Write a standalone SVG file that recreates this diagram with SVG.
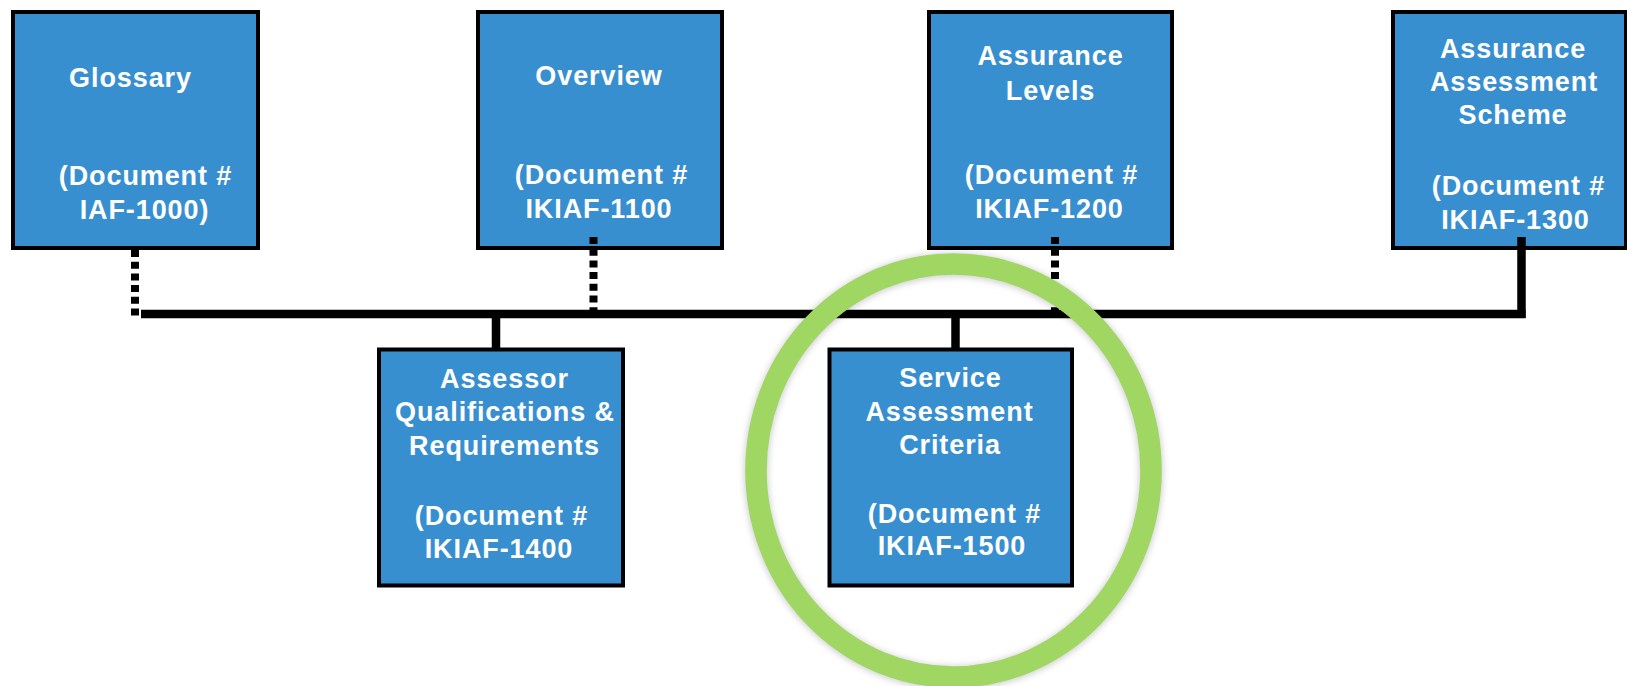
<svg xmlns="http://www.w3.org/2000/svg" width="1627" height="686" viewBox="0 0 1627 686">
  <style>
    .box { fill: #388FD0; stroke: #000; stroke-width: 4; }
    .lbl { font-family: "Liberation Sans", Arial, sans-serif; font-weight: bold; font-size: 27px; letter-spacing: 0.9px; fill: #fff; text-anchor: middle; }
    .solid { stroke: #000; stroke-width: 8.5; fill: none; }
    .dotted { stroke: #000; stroke-width: 8; fill: none; stroke-dasharray: 7 4.7; }
    .ring { fill: none; stroke: #A0D662; stroke-width: 21.5; }
    .ring-shadow { fill: none; stroke: #000; stroke-opacity: 0.18; stroke-width: 24; }
  </style>
  <defs>
    <filter id="soft" x="-10%" y="-10%" width="120%" height="120%">
      <feGaussianBlur stdDeviation="3"/>
    </filter>
  </defs>

  <rect width="1627" height="686" fill="#fff"/>

  <!-- document boxes, top row -->
  <g id="glossary">
    <rect class="box" x="13" y="12" width="245" height="236"/>
    <text class="lbl" x="130.5" y="87">Glossary</text>
    <text class="lbl" x="145.5" y="185">(Document #</text>
    <text class="lbl" x="144.5" y="219">IAF-1000)</text>
  </g>

  <g id="overview">
    <rect class="box" x="478" y="12" width="244" height="236"/>
    <text class="lbl" x="599" y="85">Overview</text>
    <text class="lbl" x="601.5" y="184">(Document #</text>
    <text class="lbl" x="599" y="218">IKIAF-1100</text>
  </g>

  <g id="assurance-levels">
    <rect class="box" x="929" y="12" width="243" height="236"/>
    <text class="lbl" x="1050.5" y="65">Assurance</text>
    <text class="lbl" x="1050.5" y="100">Levels</text>
    <text class="lbl" x="1051.5" y="184">(Document #</text>
    <text class="lbl" x="1049.5" y="218">IKIAF-1200</text>
  </g>

  <g id="assurance-assessment-scheme">
    <rect class="box" x="1393" y="12" width="233" height="236"/>
    <text class="lbl" x="1513" y="58">Assurance</text>
    <text class="lbl" x="1514" y="91">Assessment</text>
    <text class="lbl" x="1513" y="124">Scheme</text>
    <text class="lbl" x="1518.5" y="195">(Document #</text>
    <text class="lbl" x="1515.5" y="229">IKIAF-1300</text>
  </g>

  <!-- document boxes, bottom row -->
  <g id="assessor-qualifications">
    <rect class="box" x="379" y="349.5" width="244" height="236"/>
    <text class="lbl" x="504.5" y="388">Assessor</text>
    <text class="lbl" x="505" y="421">Qualifications &amp;</text>
    <text class="lbl" x="504.5" y="455">Requirements</text>
    <text class="lbl" x="501.5" y="525">(Document #</text>
    <text class="lbl" x="499" y="558">IKIAF-1400</text>
  </g>

  <g id="service-assessment-criteria">
    <rect class="box" x="829.5" y="349.5" width="242.5" height="236"/>
    <text class="lbl" x="950.5" y="387">Service</text>
    <text class="lbl" x="949.5" y="421">Assessment</text>
    <text class="lbl" x="950" y="454">Criteria</text>
    <text class="lbl" x="954.5" y="523">(Document #</text>
    <text class="lbl" x="952" y="555">IKIAF-1500</text>
  </g>

  <!-- connectors -->
  <g id="connectors">
    <line class="solid" x1="141" y1="314" x2="1525.5" y2="314"/>
    <line class="solid" x1="1521.5" y1="237" x2="1521.5" y2="318"/>
    <line class="solid" x1="496" y1="314" x2="496" y2="348"/>
    <line class="solid" x1="955.5" y1="314" x2="955.5" y2="348"/>
    <line class="dotted" x1="135" y1="250" x2="135" y2="319"/>
    <line class="dotted" x1="593.5" y1="237" x2="593.5" y2="319"/>
    <line class="dotted" x1="1055" y1="237" x2="1055" y2="319"/>
  </g>

  <!-- highlight ring around the criteria document, with a soft shadow -->
  <g id="highlight">
    <ellipse class="ring-shadow" cx="953.5" cy="471.5" rx="197.5" ry="206.5" filter="url(#soft)"/>
    <ellipse class="ring" cx="953.5" cy="470.5" rx="197.5" ry="206.5"/>
  </g>
</svg>
